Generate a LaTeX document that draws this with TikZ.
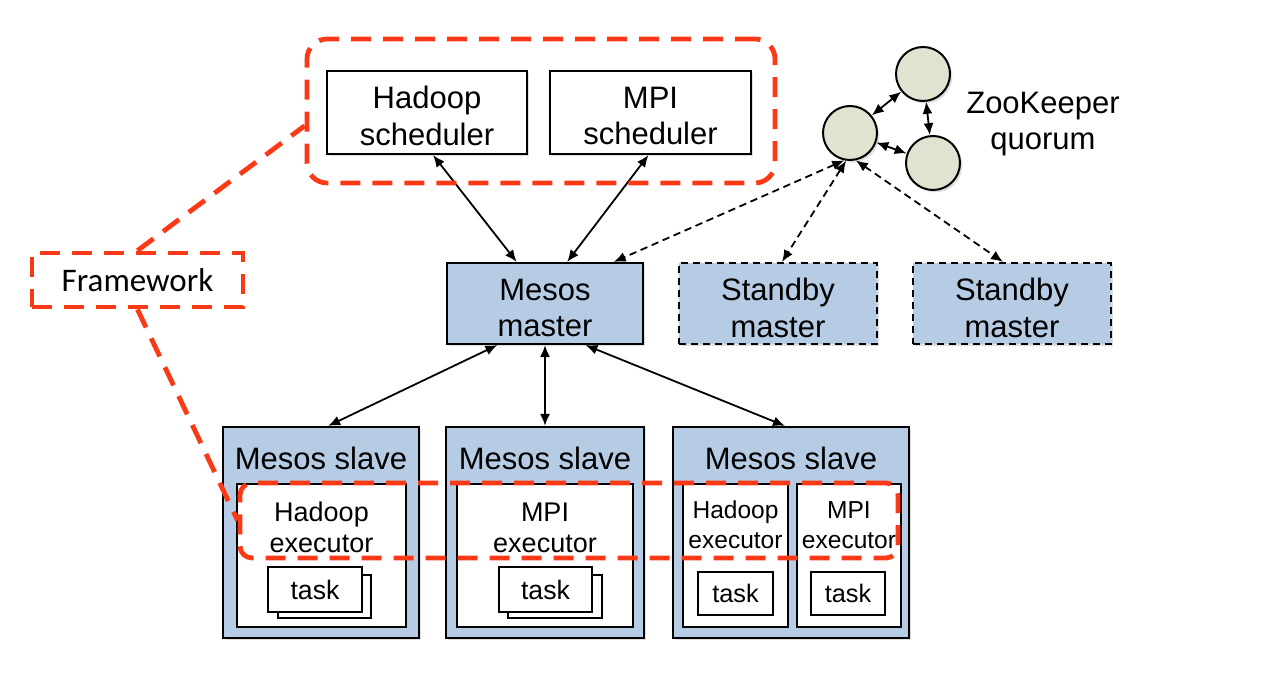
\documentclass[tikz,border=0pt]{standalone}
\usepackage{fontspec}
\setmainfont{Liberation Sans}
\newfontfamily\fwfont{Carlito}
\usetikzlibrary{shadows,fit,calc,arrows.meta}
\definecolor{mblue}{RGB}{182,204,228}
\definecolor{zkfill}{RGB}{224,227,208}
\definecolor{fwred}{RGB}{250,58,22}
\begin{document}
\begin{tikzpicture}[x=0.75pt,y=-0.75pt,
  shad/.style={drop shadow={shadow xshift=1.8pt,shadow yshift=-1.8pt,opacity=0.25}},
  boxw/.style={draw=black,line width=1.6pt,fill=white,inner sep=0pt},
  boxb/.style={draw=black,line width=1.6pt,fill=mblue,inner sep=0pt},
  stand/.style={boxb,dash pattern=on 5.5pt off 3.5pt},
  innerbox/.style={draw=black,line width=1.3pt,fill=white,inner sep=0pt},
  lbl/.style={font=\fontsize{23.25}{27.5}\selectfont,align=center,inner sep=0pt},
  exlbl/.style={font=\fontsize{20.25}{23.25}\selectfont,align=center,inner sep=0pt},
  exlbls/.style={font=\fontsize{18.4}{22.5}\selectfont,align=center,inner sep=0pt},
  tasklbl/.style={font=\fontsize{20}{24}\selectfont,inner sep=0pt},
  tasklbls/.style={font=\fontsize{19}{23}\selectfont,inner sep=0pt},
  zk/.style={circle,draw=black,line width=1.5pt,fill=zkfill,minimum size=40.5pt,inner sep=0pt,shad},
  conn/.style={line width=1.35pt,{Latex[length=9pt,width=7.5pt]}-{Latex[length=9pt,width=7.5pt]}},
  dconn/.style={conn,dash pattern=on 5.5pt off 3.5pt},
  redd/.style={draw=fwred,line width=3.6pt,dash pattern=on 15pt off 9pt},
]
\fill[white] (0,0) rectangle (1268,680);
\useasboundingbox (0,0) rectangle (1268,680);

% schedulers
\node[boxw,shad,fit={(327,71)(527,154)}] (hs) {};
\node[lbl] at (427,116) {Hadoop\\scheduler};
\node[boxw,shad,fit={(550,71)(751,154)}] (ms) {};
\node[lbl] at (650.5,116) {MPI\\scheduler};

% zookeeper
\node[zk] (zk1) at (850,133) {};
\node[zk] (zk2) at (923,74) {};
\node[zk] (zk3) at (933,163) {};
\node[lbl] (zkt) at (1043,124) {ZooKeeper\\quorum};

% masters
\node[boxb,shad,fit={(447,263)(643,344)}] (mm) {};
\node[lbl] at (545,308) {Mesos\\master};
\node[stand,shad,fit={(679,263)(877,344)}] (sb1) {};
\node[lbl] at (778,308) {Standby\\master};
\node[stand,shad,fit={(913,263)(1111,344)}] (sb2) {};
\node[lbl] at (1012,308) {Standby\\master};

% slaves
\node[boxb,shad,fit={(223,427)(419,638)}] (s1) {};
\node[lbl] at (321,458) {Mesos slave};
\node[boxb,shad,fit={(446,427)(644,638)}] (s2) {};
\node[lbl] at (545,458) {Mesos slave};
\node[boxb,shad,fit={(673,427)(909,638)}] (s3) {};
\node[lbl] at (791,458) {Mesos slave};

% executors
\node[innerbox,fit={(237,484)(406,627)}] (e1) {};
\node[exlbl] at (321.5,527.5) {Hadoop\\executor};
\node[innerbox,fit={(457,484)(633,627)}] (e2) {};
\node[exlbl] at (545,527.5) {MPI\\executor};
\node[innerbox,fit={(683,484)(788,627)}] (e3a) {};
\node[exlbls] at (735.5,525) {Hadoop\\executor};
\node[innerbox,fit={(797,484)(901,627)}] (e3b) {};
\node[exlbls] at (849,525) {MPI\\executor};

% tasks
\node[innerbox,fit={(278,575)(371,618)}] (t1b) {};
\node[innerbox,fit={(268,567)(362,612)}] (t1) {};
\node[tasklbl] at (t1) {task};
\node[innerbox,fit={(508,575)(602,618)}] (t2b) {};
\node[innerbox,fit={(499,567)(592,612)}] (t2) {};
\node[tasklbl] at (t2) {task};
\node[innerbox,fit={(698,572)(773,615)}] (t3a) {};
\node[tasklbls] at (t3a) {task};
\node[innerbox,fit={(811,572)(885,615)}] (t3b) {};
\node[tasklbls] at (t3b) {task};

% connectors
\draw[conn] ($(hs.south west)!0.53!(hs.south east)$) -- ($(mm.north west)!0.357!(mm.north east)$);
\draw[conn] ($(ms.south west)!0.49!(ms.south east)$) -- ($(mm.north west)!0.612!(mm.north east)$);
\draw[dconn] (zk1.258) -- ($(mm.north west)!0.847!(mm.north east)$);
\draw[dconn] (zk1.262) -- ($(sb1.north west)!0.52!(sb1.north east)$);
\draw[dconn] (zk1.282) -- ($(sb2.north west)!0.455!(sb2.north east)$);
\draw[conn] ($(mm.south west)!0.26!(mm.south east)$) -- ($(s1.north west)!0.536!(s1.north east)$);
\draw[conn] ($(mm.south west)!0.5!(mm.south east)$) -- ($(s2.north west)!0.5!(s2.north east)$);
\draw[conn] ($(mm.south west)!0.704!(mm.south east)$) -- ($(s3.north west)!0.475!(s3.north east)$);
\draw[conn] (zk1) -- (zk2);
\draw[conn] (zk2) -- (zk3);
\draw[conn] (zk1) -- (zk3);

% framework highlight
\node[redd,rounded corners=15pt,inner sep=0pt,fit={(307,39)(775,183)}] (fwtop) {};
\node[redd,rounded corners=9pt,inner sep=0pt,fit={(240,483)(898,558)}] (fwex) {};
\node[redd,inner sep=0pt,fit={(32,253)(243,307)}] (fw) {};
\node[font=\fwfont\fontsize{24.75}{28}\selectfont,inner sep=0pt] at (fw) {Framework};
\draw[redd] (fw.north) -- ($(fwtop.north west)!0.6!(fwtop.south west)$);
\draw[redd] (fw.south) -- (fwex.west);
\end{tikzpicture}
\end{document}
